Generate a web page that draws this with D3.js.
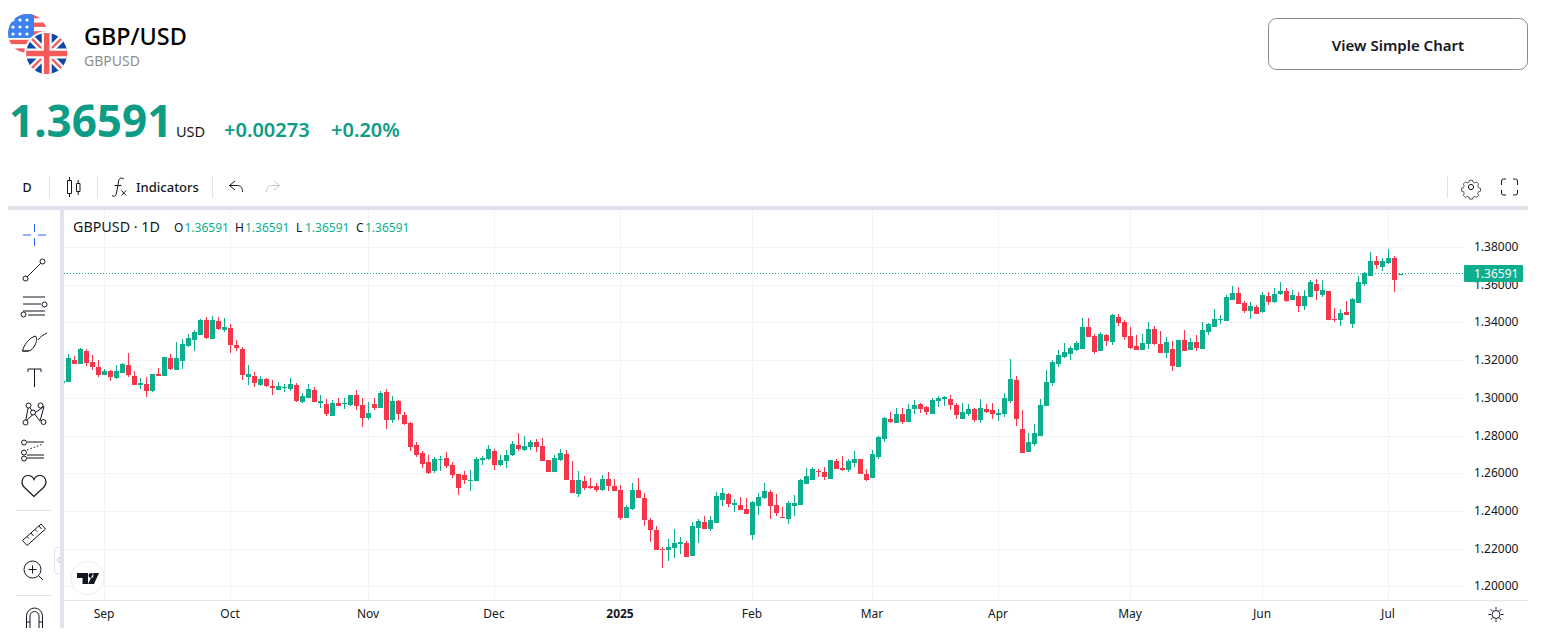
<!DOCTYPE html>
<html>
<head>
<meta charset="utf-8">
<title>GBP/USD</title>
<script src="https://cdn.jsdelivr.net/npm/d3@7"></script>
<style>
    html, body { margin: 0; padding: 0; background: #fff; overflow: hidden; }
    svg { display: block; font-family: "Noto Sans", sans-serif; }
    .axis text { font-family: "Noto Sans", sans-serif; font-size: 12px; fill: #131722; }
    .axis path, .axis line { display: none; }
</style>
</head>
<body>
<div id="chart"></div>
<script>
// Daily candle values (first entry is the candle cut by the left edge)
const opens = [1.3080,
    1.3085,1.3201,1.3180,1.3249,1.3191,1.3164,1.3122,1.3143,1.3106,1.3132,
    1.3175,1.3117,1.3069,1.3074,1.3037,1.3127,1.3117,1.3212,1.3148,1.3196,
    1.3276,1.3308,1.3334,1.3414,1.3313,1.3409,1.3361,1.3371,1.3281,1.3260,
    1.3111,1.3117,1.3069,1.3101,1.3063,1.3042,1.3053,1.3048,1.3069,1.2978,
    1.3000,1.3042,1.2973,1.2968,1.2909,1.2973,1.2968,1.2963,1.3016,1.2965,
    1.2896,1.2971,1.2949,1.3034,1.2886,1.2986,1.2912,1.2870,1.2753,1.2710,
    1.2663,1.2615,1.2673,1.2684,1.2647,1.2599,1.2594,1.2562,1.2562,1.2673,
    1.2679,1.2721,1.2647,1.2668,1.2700,1.2753,1.2726,1.2742,1.2769,1.2748,
    1.2673,1.2609,1.2673,1.2705,1.2567,1.2493,1.2562,1.2535,1.2535,1.2514,
    1.2571,1.2534,1.2513,1.2364,1.2412,1.2513,1.2470,1.2353,1.2300,1.2199,
    1.2194,1.2205,1.2226,1.2231,1.2162,1.2311,1.2343,1.2306,1.2337,1.2459,
    1.2491,1.2433,1.2433,1.2412,1.2274,1.2428,1.2470,1.2502,1.2433,1.2369,
    1.2359,1.2428,1.2433,1.2544,1.2566,1.2613,1.2608,1.2571,1.2667,1.2629,
    1.2619,1.2656,1.2677,1.2598,1.2576,1.2689,1.2784,1.2891,1.2869,1.2917,
    1.2875,1.2944,1.2970,1.2954,1.2917,1.2986,1.2997,1.2997,1.2965,1.2891,
    1.2917,1.2944,1.2885,1.2944,1.2938,1.2912,1.2917,1.2986,1.3098,1.2838,
    1.2715,1.2758,1.2800,1.2960,1.3082,1.3183,1.3217,1.3233,1.3254,1.3260,
    1.3376,1.3329,1.3249,1.3334,1.3297,1.3430,1.3403,1.3329,1.3276,1.3254,
    1.3286,1.3366,1.3286,1.3238,1.3260,1.3164,1.3307,1.3254,1.3297,1.3260,
    1.3350,1.3376,1.3414,1.3408,1.3521,1.3559,1.3505,1.3463,1.3484,1.3458,
    1.3543,1.3511,1.3553,1.3569,1.3521,1.3543,1.3490,1.3537,1.3606,1.3548,
    1.3569,1.3421,1.3415,1.3458,1.3394,1.3505,1.3606,1.3649,1.3728,1.3697,
    1.3718,1.3744,1.36591];

const highs = [1.3095,
    1.3233,1.3223,1.3265,1.3260,1.3228,1.3201,1.3154,1.3148,1.3175,1.3186,
    1.3239,1.3143,1.3106,1.3111,1.3127,1.3159,1.3217,1.3233,1.3297,1.3313,
    1.3340,1.3361,1.3419,1.3430,1.3435,1.3430,1.3425,1.3393,1.3308,1.3271,
    1.3175,1.3138,1.3117,1.3106,1.3095,1.3085,1.3074,1.3106,1.3079,1.3026,
    1.3074,1.3058,1.3016,1.2994,1.2989,1.3000,1.3000,1.3016,1.3042,1.3002,
    1.2981,1.3002,1.3040,1.3050,1.3013,1.2992,1.2928,1.2875,1.2769,1.2721,
    1.2700,1.2689,1.2694,1.2716,1.2663,1.2599,1.2615,1.2620,1.2689,1.2694,
    1.2753,1.2732,1.2700,1.2726,1.2774,1.2817,1.2801,1.2779,1.2785,1.2790,
    1.2673,1.2700,1.2732,1.2726,1.2668,1.2615,1.2588,1.2578,1.2551,1.2594,
    1.2608,1.2571,1.2539,1.2433,1.2550,1.2576,1.2497,1.2364,1.2321,1.2210,
    1.2252,1.2306,1.2263,1.2242,1.2343,1.2359,1.2375,1.2375,1.2502,1.2523,
    1.2497,1.2465,1.2475,1.2470,1.2454,1.2497,1.2550,1.2513,1.2491,1.2422,
    1.2454,1.2486,1.2571,1.2629,1.2635,1.2624,1.2635,1.2672,1.2677,1.2693,
    1.2677,1.2720,1.2677,1.2624,1.2726,1.2800,1.2901,1.2928,1.2949,1.2949,
    1.2970,1.2991,1.2976,1.2960,1.3002,1.3013,1.3013,1.3018,1.2976,1.2976,
    1.2970,1.2949,1.2997,1.2970,1.2976,1.2944,1.3029,1.3209,1.3119,1.2938,
    1.2816,1.2864,1.2997,1.3151,1.3204,1.3257,1.3291,1.3276,1.3302,1.3424,
    1.3424,1.3339,1.3350,1.3339,1.3445,1.3445,1.3414,1.3376,1.3334,1.3339,
    1.3403,1.3382,1.3355,1.3323,1.3302,1.3307,1.3360,1.3318,1.3334,1.3403,
    1.3398,1.3472,1.3440,1.3546,1.3596,1.3590,1.3516,1.3511,1.3495,1.3564,
    1.3564,1.3585,1.3617,1.3585,1.3574,1.3564,1.3574,1.3628,1.3633,1.3628,
    1.3569,1.3479,1.3474,1.3516,1.3532,1.3649,1.3670,1.3776,1.3755,1.3744,
    1.3792,1.3755,1.36591];

const lows = [1.3076,
    1.3085,1.3180,1.3180,1.3170,1.3148,1.3111,1.3122,1.3090,1.3101,1.3132,
    1.3111,1.3069,1.3048,1.3005,1.3032,1.3117,1.3117,1.3148,1.3148,1.3154,
    1.3271,1.3249,1.3334,1.3313,1.3313,1.3361,1.3350,1.3239,1.3249,1.3095,
    1.3069,1.3058,1.3063,1.3058,1.3016,1.3042,1.3032,1.3037,1.2978,1.2973,
    1.3000,1.2978,1.2947,1.2909,1.2909,1.2957,1.2941,1.2957,1.2936,1.2848,
    1.2886,1.2939,1.2949,1.2838,1.2870,1.2886,1.2859,1.2721,1.2689,1.2631,
    1.2599,1.2604,1.2615,1.2631,1.2578,1.2487,1.2546,1.2509,1.2562,1.2647,
    1.2673,1.2620,1.2641,1.2631,1.2694,1.2721,1.2721,1.2726,1.2716,1.2668,
    1.2609,1.2609,1.2668,1.2567,1.2498,1.2477,1.2514,1.2519,1.2503,1.2509,
    1.2507,1.2507,1.2353,1.2364,1.2406,1.2470,1.2321,1.2236,1.2194,1.2098,
    1.2136,1.2152,1.2173,1.2157,1.2162,1.2231,1.2306,1.2295,1.2337,1.2428,
    1.2422,1.2396,1.2406,1.2385,1.2247,1.2380,1.2465,1.2359,1.2375,1.2364,
    1.2332,1.2375,1.2433,1.2544,1.2566,1.2582,1.2566,1.2571,1.2624,1.2613,
    1.2608,1.2635,1.2598,1.2560,1.2576,1.2678,1.2768,1.2869,1.2869,1.2864,
    1.2875,1.2917,1.2922,1.2912,1.2917,1.2954,1.2960,1.2938,1.2891,1.2891,
    1.2907,1.2875,1.2869,1.2922,1.2891,1.2880,1.2901,1.2976,1.2853,1.2710,
    1.2715,1.2747,1.2800,1.2960,1.3066,1.3167,1.3212,1.3201,1.3249,1.3260,
    1.3323,1.3233,1.3249,1.3276,1.3281,1.3382,1.3307,1.3260,1.3254,1.3254,
    1.3260,1.3281,1.3238,1.3212,1.3143,1.3164,1.3249,1.3254,1.3249,1.3260,
    1.3334,1.3376,1.3392,1.3408,1.3521,1.3500,1.3452,1.3421,1.3447,1.3452,
    1.3495,1.3505,1.3548,1.3511,1.3521,1.3458,1.3468,1.3537,1.3521,1.3537,
    1.3415,1.3405,1.3383,1.3442,1.3373,1.3505,1.3596,1.3649,1.3686,1.3675,
    1.3712,1.3564,1.36591];

const closes = [1.3090,
    1.3212,1.3180,1.3260,1.3186,1.3164,1.3122,1.3143,1.3111,1.3143,1.3180,
    1.3122,1.3069,1.3079,1.3037,1.3127,1.3117,1.3217,1.3154,1.3212,1.3286,
    1.3318,1.3350,1.3414,1.3318,1.3414,1.3366,1.3377,1.3281,1.3265,1.3122,
    1.3127,1.3079,1.3101,1.3063,1.3053,1.3063,1.3058,1.3074,1.2984,1.3010,
    1.3048,1.2978,1.2984,1.2915,1.2973,1.2957,1.2973,1.3016,1.2957,1.2896,
    1.2923,1.2949,1.3029,1.2886,1.2986,1.2917,1.2864,1.2742,1.2700,1.2652,
    1.2604,1.2679,1.2679,1.2641,1.2594,1.2525,1.2567,1.2567,1.2679,1.2684,
    1.2732,1.2647,1.2673,1.2700,1.2758,1.2732,1.2748,1.2769,1.2742,1.2668,
    1.2609,1.2684,1.2710,1.2567,1.2498,1.2567,1.2525,1.2525,1.2514,1.2572,
    1.2534,1.2507,1.2364,1.2422,1.2513,1.2470,1.2353,1.2300,1.2194,1.2194,
    1.2210,1.2231,1.2236,1.2157,1.2321,1.2348,1.2306,1.2353,1.2481,1.2497,
    1.2438,1.2444,1.2406,1.2385,1.2449,1.2475,1.2507,1.2428,1.2390,1.2364,
    1.2444,1.2444,1.2566,1.2587,1.2624,1.2608,1.2582,1.2672,1.2624,1.2619,
    1.2667,1.2677,1.2598,1.2566,1.2705,1.2795,1.2896,1.2875,1.2917,1.2875,
    1.2944,1.2965,1.2944,1.2928,1.2991,1.3002,1.3007,1.2965,1.2912,1.2928,
    1.2944,1.2885,1.2949,1.2928,1.2917,1.2922,1.3002,1.3103,1.2891,1.2710,
    1.2768,1.2816,1.2965,1.3087,1.3193,1.3230,1.3244,1.3265,1.3291,1.3376,
    1.3323,1.3244,1.3339,1.3302,1.3440,1.3398,1.3323,1.3265,1.3254,1.3291,
    1.3366,1.3286,1.3238,1.3297,1.3169,1.3307,1.3249,1.3297,1.3265,1.3360,
    1.3392,1.3419,1.3419,1.3536,1.3559,1.3500,1.3463,1.3490,1.3447,1.3548,
    1.3511,1.3553,1.3569,1.3516,1.3548,1.3490,1.3543,1.3617,1.3569,1.3574,
    1.3415,1.3415,1.3452,1.3442,1.3527,1.3617,1.3665,1.3728,1.3707,1.3728,
    1.3744,1.3628,1.36591];

// Time axis: bar index of the first trading day of each month
const monthLabels = ["Sep", "Oct", "Nov", "Dec", "2025", "Feb", "Mar", "Apr", "May", "Jun", "Jul"];
const monthBars = [7, 28, 51, 72, 93, 115, 135, 156, 178, 200, 221];
const priceTicks = [1.20, 1.22, 1.24, 1.26, 1.28, 1.30, 1.32, 1.34, 1.36, 1.38];
const lastPrice = 1.36591;
const legendItems = [["O", 174, 184.5], ["H", 235, 245], ["L", 296, 305], ["C", 356, 365]];

const upColor = "#0cae8e";
const downColor = "#f6354a";
const headerGreen = "#0d9c85";
const inkColor = "#131722";
const gridColor = "#f2f3f6";
const panelColor = "#e0e3eb";

const svg = d3.select("#chart").append("svg")
    .attr("width", 1545)
    .attr("height", 636);

// Scales and axes
const xScale = d3.scaleLinear().domain([0, opens.length - 1]).range([62.5, 1400.5]);
const yScale = d3.scaleLinear().domain([1.20, 1.38]).range([586.9, 247.5]);

const addText = (parent, x, y, str, size, fill, weight) => parent.append("text")
    .attr("x", x)
    .attr("y", y)
    .attr("font-size", size)
    .attr("font-weight", weight || 400)
    .attr("fill", fill)
    .text(str);

// Icon line-work, one stroke style for everything in the toolbars
const addPath = (parent, d, stroke, width) => parent.append("path")
    .attr("d", d)
    .attr("fill", "none")
    .attr("stroke", stroke || inkColor)
    .attr("stroke-width", width || 1);

const addDot = (parent, x, y, r) => parent.append("circle")
    .attr("cx", x).attr("cy", y).attr("r", r || 2.5)
    .attr("fill", "#fff").attr("stroke", inkColor);

const defs = svg.append("defs");
defs.append("clipPath").attr("id", "plotClip").append("rect")
    .attr("x", 64).attr("y", 210).attr("width", 1399).attr("height", 390);
defs.append("clipPath").attr("id", "usClip").append("circle").attr("cx", 27.5).attr("cy", 33.5).attr("r", 19.5);
defs.append("clipPath").attr("id", "ukClip").append("circle").attr("cx", 46.7).attr("cy", 53.5).attr("r", 20.5);

// US flag
const usFlag = svg.append("g").attr("clip-path", "url(#usClip)");
usFlag.append("rect").attr("x", 8).attr("y", 14).attr("width", 40).attr("height", 40).attr("fill", "#fff");
d3.range(0, 5).forEach(k => {
    usFlag.append("rect").attr("x", 8).attr("y", 14 + k * 8.6).attr("width", 40).attr("height", 4.3).attr("fill", "#f55a5a");
});
usFlag.append("rect").attr("x", 8).attr("y", 14).attr("width", 26).attr("height", 24).attr("fill", "#3c82f0");
[[13, 20], [20, 20], [27, 20], [13, 27], [20, 27], [27, 27], [13, 34], [20, 34], [27, 34]].forEach(p => {
    usFlag.append("circle").attr("cx", p[0]).attr("cy", p[1]).attr("r", 1.6).attr("fill", "#fff");
});

// UK flag with the white ring that cuts into the US one
svg.append("circle").attr("cx", 46.7).attr("cy", 53.5).attr("r", 22.5).attr("fill", "#fff");
const ukFlag = svg.append("g").attr("clip-path", "url(#ukClip)");
ukFlag.append("rect").attr("x", 26).attr("y", 33).attr("width", 42).attr("height", 42).attr("fill", "#1048a4");
addPath(ukFlag, "M30 37L63 70M63 37L30 70", "#fff", 7);
addPath(ukFlag, "M30 37L63 70M63 37L30 70", "#f55a5a", 2.4);
addPath(ukFlag, "M46.7 33V74M26 53.5H68", "#fff", 10);
addPath(ukFlag, "M46.7 33V74M26 53.5H68", "#f55a5a", 5.5);

// Page header
addText(svg, 84, 45, "GBP/USD", 23.4, "#000", 500);
addText(svg, 84, 66, "GBPUSD", 14, "#8f8f8f");
addText(svg, 9, 137, "1.36591", 44, headerGreen, 700);
addText(svg, 176, 137, "USD", 14.5, inkColor);
addText(svg, 224, 137, "+0.00273", 20, headerGreen, 600);
addText(svg, 331, 137, "+0.20%", 20, headerGreen, 600);

svg.append("rect")
    .attr("x", 1268.5).attr("y", 18.5).attr("width", 259).attr("height", 51).attr("rx", 8)
    .attr("fill", "#fff").attr("stroke", "#8a8a8a");
addText(svg, 1398, 51, "View Simple Chart", 15, "#131722", 600).attr("text-anchor", "middle");

// Top toolbar
addText(svg, 27, 192, "D", 12.5, inkColor, 500).attr("text-anchor", "middle");
[49, 97, 212, 1447].forEach(x => {
    svg.append("line").attr("x1", x + 0.5).attr("x2", x + 0.5).attr("y1", 176).attr("y2", 198).attr("stroke", panelColor);
});
addPath(svg, "M67.5 180.5h4v13h-4zM69.5 177v3.5M69.5 193.5v3.5M76.5 183.5h3.5v8h-3.5zM78.2 180v3.5M78.2 191.5v3.5");
addPath(svg, "M124 179c-3-2-5-1-5.5 3l-2 11c-.5 3-2 4-4.5 2.5M114.5 185.5h7");
addPath(svg, "M121.5 190.5l4.5 5M126 190.5l-4.500 5");
addText(svg, 136, 192, "Indicators", 13, inkColor, 500);
addPath(svg, "M235 181l-5.500 4.500 5.500 4.500M229.500 185.500h8c3.500 0 5 2.500 5 6.500");
addPath(svg, "M274 181l5.500 4.500-5.500 4.500M279.500 185.500h-8c-3.500 0-5 2.500-5 6.500", "#c4c7ce");
// Gear and fullscreen at the right end
addPath(svg, "M1469 178h4l.8 2.700 2.600 1.100 2.500-1.300 2.800 2.800-1.300 2.500 1.100 2.600 2.700.8v4l-2.700.8-1.100 2.600 1.300 2.500-2.800 2.800-2.500-1.300-2.600 1.100-.8 2.700h-4l-.8-2.700-2.600-1.100-2.500 1.300-2.800-2.800 1.300-2.500-1.100-2.600-2.700-.8v-4l2.700-.8 1.100-2.600-1.300-2.500 2.800-2.800 2.500 1.300 2.600-1.100z")
    .attr("transform", "translate(1471 187) scale(.72) translate(-1471 -187.500)");
svg.append("circle").attr("cx", 1471).attr("cy", 187).attr("r", 2.6).attr("fill", "none").attr("stroke", inkColor);
addPath(svg, "M1501.500 185v-4a2 2 0 0 1 2-2h2.500M1513 179h2.500a2 2 0 0 1 2 2v4M1517.500 190v3a2 2 0 0 1-2 2H1513M1506 195h-2.500a2 2 0 0 1-2-2v-3");

// Panel borders around the chart
svg.append("rect").attr("x", 8).attr("y", 206).attr("width", 1520).attr("height", 4).attr("fill", panelColor);
svg.append("rect").attr("x", 60).attr("y", 210).attr("width", 4).attr("height", 418).attr("fill", panelColor);

// Grid lines on the month and price ticks
const grid = svg.append("g");
grid.selectAll(".vGrid")
    .data(monthBars)
    .enter()
    .append("line")
    .attr("class", "vGrid")
    .attr("x1", d => Math.floor(xScale(d)) + 0.5)
    .attr("x2", d => Math.floor(xScale(d)) + 0.5)
    .attr("y1", 210)
    .attr("y2", 600)
    .attr("stroke", gridColor);
grid.selectAll(".hGrid")
    .data(priceTicks)
    .enter()
    .append("line")
    .attr("class", "hGrid")
    .attr("x1", 64)
    .attr("x2", 1463)
    .attr("y1", d => Math.floor(yScale(d)) + 0.5)
    .attr("y2", d => Math.floor(yScale(d)) + 0.5)
    .attr("stroke", gridColor);

svg.append("line").attr("x1", 64).attr("x2", 1528).attr("y1", 600.5).attr("y2", 600.5).attr("stroke", panelColor);

// Price axis and time axis
const yAxis = d3.axisRight(yScale)
    .tickValues(priceTicks)
    .tickFormat(d3.format(".5f"))
    .tickSize(0)
    .tickPadding(0);
svg.append("g")
    .attr("class", "axis")
    .attr("transform", "translate(1474, -0.8)")
    .call(yAxis);

const xAxis = d3.axisBottom(xScale)
    .tickValues(monthBars)
    .tickFormat((d, i) => monthLabels[i])
    .tickSize(0)
    .tickPadding(0);
const timeAxis = svg.append("g")
    .attr("class", "axis")
    .attr("transform", "translate(-1, 609.5)")
    .call(xAxis);
timeAxis.selectAll("text").filter(d => d === 93).attr("font-weight", 700);

// Last price line
svg.append("line")
    .attr("x1", 64)
    .attr("x2", 1463)
    .attr("y1", Math.floor(yScale(lastPrice)) - 0.5)
    .attr("y2", Math.floor(yScale(lastPrice)) - 0.5)
    .attr("stroke", upColor)
    .attr("stroke-dasharray", "1 2");

// Candles: wicks first, then bodies
const plot = svg.append("g").attr("clip-path", "url(#plotClip)");
const bars = d3.range(opens.length);
const colorOf = i => closes[i] >= opens[i] ? upColor : downColor;

plot.selectAll(".wick")
    .data(bars)
    .enter()
    .append("rect")
    .attr("class", "wick")
    .attr("x", i => Math.floor(xScale(i)))
    .attr("y", i => Math.round(yScale(highs[i])))
    .attr("width", 1)
    .attr("height", i => Math.max(1, Math.round(yScale(lows[i])) - Math.round(yScale(highs[i]))))
    .attr("fill", colorOf);

plot.selectAll(".body")
    .data(bars)
    .enter()
    .append("rect")
    .attr("class", "body")
    .attr("x", i => Math.floor(xScale(i)) - 2)
    .attr("y", i => Math.round(yScale(Math.max(opens[i], closes[i]))))
    .attr("width", 5)
    .attr("height", i => Math.max(1, Math.round(yScale(Math.min(opens[i], closes[i]))) - Math.round(yScale(Math.max(opens[i], closes[i])))))
    .attr("fill", colorOf);

// Price tag on the axis
svg.append("rect")
    .attr("x", 1464).attr("y", 265).attr("width", 59).attr("height", 17).attr("rx", 1)
    .attr("fill", upColor);
addText(svg, 1474, 278, d3.format(".5f")(lastPrice), 12, "#fff");

// Legend row
addText(svg, 73, 232, "GBPUSD · 1D", 14.3, inkColor);
legendItems.forEach(d => {
    addText(svg, d[1], 232, d[0], 12, inkColor);
    addText(svg, d[2], 232, d3.format(".5f")(lastPrice), 12, upColor);
});

// Left drawing toolbar
addPath(svg, "M34.500 224v8M34.500 238v8M23 235h8M38 235h8", "#2962ff");
addPath(svg, "M27 277L41 263");
addDot(svg, 25.500, 278.500); addDot(svg, 42.500, 261.500);
addPath(svg, "M23 297h22M23 304h18M23 311h22M28 315h17");
addDot(svg, 44.500, 304.500); addDot(svg, 23.500, 314.500);
addPath(svg, "M22.500 351c1-5 6-13 13-15 2 3 1 6-.5 9-1.500 3-3 5-6 6zM22.500 351h6M38 340c2-3 5-5 9-7");
addPath(svg, "M28 369h13M34.500 369v18M28 369v3M41 369v3");
addPath(svg, "M25.500 421.500L28.500 406L40 421L44 406.500L34 413.500L25.500 421.500");
addDot(svg, 28.500, 405.500); addDot(svg, 40.500, 405.500); addDot(svg, 33, 412.500); addDot(svg, 25.500, 422.500); addDot(svg, 43.500, 422);
addPath(svg, "M27 442h17M27 455h17M27 458h17");
addPath(svg, "M27 450l16-6", inkColor).attr("stroke-dasharray", "1.500 2");
addDot(svg, 24, 442.500); addDot(svg, 24, 452.500); addDot(svg, 24, 458.500);
addPath(svg, "M34 496.500l-9.500-9c-5-5-1.500-12 3.500-12 3 0 5 1.500 6 4 1-2.500 3-4 6-4 5 0 8.500 7 3.500 12z", inkColor, 1.200);
svg.append("line").attr("x1", 16).attr("x2", 52).attr("y1", 510.500).attr("y2", 510.500).attr("stroke", panelColor);
addPath(svg, "M22.500 540.500L41 524l4.500 5-18.500 16.500zM27 536.500l2 2M31 533l2.500 3M35 529.500l2 2M39 526l2.500 3");
svg.append("circle").attr("cx", 32.500).attr("cy", 569.500).attr("r", 8.500).attr("fill", "none").attr("stroke", inkColor);
addPath(svg, "M39 576l4 4M28.500 569.500h8M32.500 565.500v8");
svg.append("line").attr("x1", 16).attr("x2", 52).attr("y1", 595.500).attr("y2", 595.500).attr("stroke", panelColor);
addPath(svg, "M26.500 628v-12a8 8 0 0 1 16 0v12M30 628v-12a4.500 4.500 0 0 1 9 0v12M26.500 622h3.500M39 622h3.500");

// Collapse handle beside the toolbar
addPath(svg, "M60 547.500h-3a2.500 2.500 0 0 0-2.500 2.500v21a2.500 2.500 0 0 0 2.500 2.500h3", panelColor);
addPath(svg, "M60 557l-2.500 3 2.500 3", "#b2b5be");

// TradingView badge
svg.append("circle").attr("cx", 87.500).attr("cy", 578).attr("r", 16.500).attr("fill", "#fff").attr("stroke", "#eceef2");
svg.append("path")
    .attr("d", "M77 573h11v11h-5.500v-6H77zM91 573a2.500 2.500 0 1 0 .01 0zM93.500 573h5.500l-5 11h-6z")
    .attr("fill", inkColor);

// Settings sun at the axis corner
svg.append("circle").attr("cx", 1496).attr("cy", 614.500).attr("r", 4).attr("fill", "none").attr("stroke", inkColor);
addPath(svg, "M1496 607v2.500M1496 619.500v2.500M1488.500 614.500h2.500M1501 614.500h2.500M1490.700 609.200l1.800 1.800M1499.500 618l1.800 1.800M1490.700 619.800l1.800-1.800M1499.500 611l1.800-1.800");
</script>
</body>
</html>
